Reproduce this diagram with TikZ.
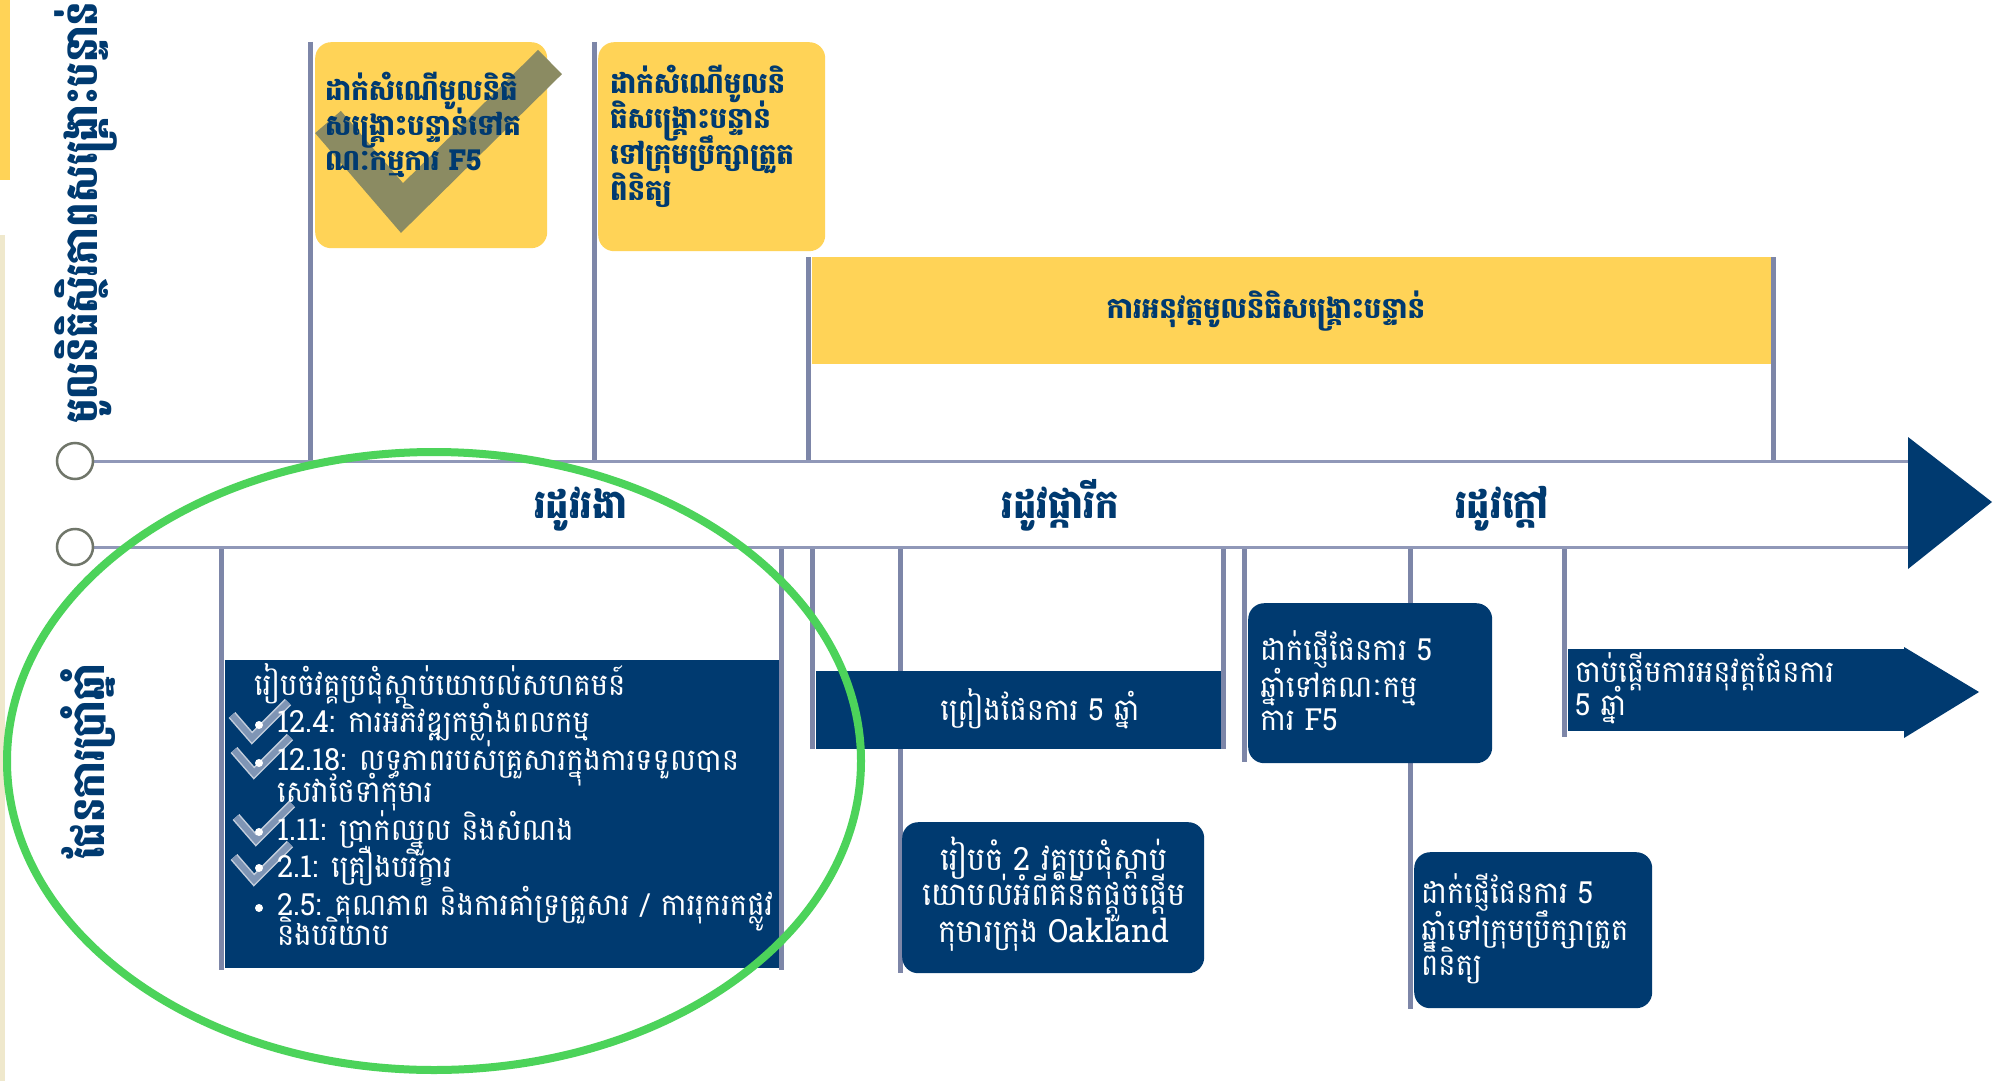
\documentclass[tikz,border=0pt]{standalone}
\usepackage{fontspec}
\newfontfamily\km[Script=Khmer,FakeStretch=0.95]{Battambang}
\newfontfamily\kmt[Script=Khmer,FakeStretch=0.86]{Battambang}
\newfontfamily\kms[Script=Khmer,FakeStretch=0.92]{Battambang}
\definecolor{navy}{HTML}{003A70}
\definecolor{yellowc}{HTML}{FFD357}
\definecolor{paleyel}{HTML}{EFE8CC}
\definecolor{linec}{HTML}{7D86A8}
\definecolor{hlinec}{HTML}{9098B8}
\definecolor{circc}{HTML}{70766A}
\definecolor{greenc}{HTML}{4CD35A}
\definecolor{olivec}{HTML}{8B8B62}
\definecolor{chkc}{HTML}{7F95B5}
\definecolor{chko}{HTML}{C4CEDD}
\tikzset{
  vline/.style={draw=linec, line width=5pt},
  hline/.style={draw=hlinec, line width=3pt},
  ybox/.style={fill=yellowc, draw=none, inner sep=0pt, anchor=north west},
  nbox/.style={fill=navy, draw=none, inner sep=0pt, anchor=north west},
  ytxt/.style={font=\km\bfseries\fontsize{29}{34}\selectfont, text=navy, inner sep=0pt, anchor=base west},
  wtxt/.style={font=\km\fontsize{30.5}{34}\selectfont, text=white, inner sep=0pt, anchor=base west},
  wtxtc/.style={wtxt, anchor=base},
  season/.style={font=\kms\bfseries\fontsize{40}{44}\selectfont, text=navy, inner sep=0pt, anchor=base},
  vtitle/.style={font=\kmt\bfseries\fontsize{45}{48}\selectfont, text=navy, inner sep=0pt, rotate=90, anchor=base west},
  smallchk/.style={line width=9pt, draw=chko},
  smallchki/.style={line width=6pt, draw=chkc},
}
\begin{document}
\begin{tikzpicture}[x=1pt,y=-1pt]
\useasboundingbox (0,0) rectangle (2015,1081);
\fill[white] (0,0) rectangle (2015,1081);
% left stripes
\fill[yellowc] (0,0) rectangle (10,180);
\fill[paleyel] (0,235) rectangle (5,1081);

% vertical titles
\node[vtitle] (titleTop) at (97,424) {មូលនិធិស្ថិរភាពសង្គ្រោះបន្ទាន់};
\node[vtitle] (titleBot) at (104,860) {ផែនការប្រាំឆ្នាំ};

% timeline coordinates
\coordinate (L1s) at (93,461);
\coordinate (L1e) at (1908,461);
\coordinate (L2s) at (93,547);
\coordinate (L2e) at (1908,547);

% top vertical lines
\coordinate (tv1) at (310,42);
\coordinate (tv2) at (594,42);
\coordinate (tv3) at (808,257);
\coordinate (tv4) at (1773,257);
\foreach \c in {tv1,tv2,tv3,tv4} \draw[vline] (\c) -- (\c |- L1s);

% bottom vertical lines
\coordinate (bv1) at (221,970);
\coordinate (bv2) at (781,970);
\coordinate (bv3) at (812,749);
\coordinate (bv4) at (900,973);
\coordinate (bv5) at (1223,749);
\coordinate (bv6) at (1244,762);
\coordinate (bv7) at (1410,1009);
\coordinate (bv8) at (1564,737);
\foreach \c in {bv1,bv2,bv3,bv4,bv5,bv6,bv7,bv8} \draw[vline] (\c |- L2s) -- (\c);

% timeline lines
\draw[hline] (L1s) -- (L1e);
\draw[hline] (L2s) -- (L2e);
\node[circle, draw=circc, line width=2.5pt, fill=white, minimum size=36pt, inner sep=0pt] (c1) at (75,461) {};
\node[circle, draw=circc, line width=2.5pt, fill=white, minimum size=36pt, inner sep=0pt] (c2) at (75,547) {};
\coordinate (ah1) at (1908,437);
\coordinate (ah2) at (1992,502);
\coordinate (ah3) at (1908,569);
\fill[navy] (ah1) -- (ah2) -- (ah3) -- cycle;

% yellow boxes
\node[ybox, rounded corners=16pt, minimum width=232pt, minimum height=206pt] (b1) at (315,42) {};
\draw[olivec, line width=34pt] (328,122) -- (402,208) -- (550,62);
\node[ytxt] (b1a) at (325,100) {ដាក់សំណើមូលនិធិ};
\node[ytxt] (b1b) at (325,135) {សង្គ្រោះបន្ទាន់ទៅគ};
\node[ytxt] (b1c) at (325,170) {ណៈកម្មការ F5};

\node[ybox, rounded corners=16pt, minimum width=227pt, minimum height=209pt] (b2) at (598,42) {};
\node[ytxt] (b2a) at (610,93) {ដាក់សំណើមូលនិ};
\node[ytxt] (b2b) at (610,128) {ធិសង្គ្រោះបន្ទាន់};
\node[ytxt] (b2c) at (610,164) {ទៅក្រុមប្រឹក្សាត្រួត};
\node[ytxt] (b2d) at (610,200) {ពិនិត្យ};

\node[ybox, minimum width=959pt, minimum height=107pt] (bar) at (812,257) {};
\node[ytxt, anchor=base] (bart) at (1266,318) {ការអនុវត្តមូលនិធិសង្គ្រោះបន្ទាន់};

% navy boxes
\node[nbox, minimum width=554pt, minimum height=308pt] (big) at (225,660) {};
\node[wtxt] (bigT) at (254,695) {រៀបចំវគ្គប្រជុំស្ដាប់យោបល់សហគមន៍};
\foreach \v/\d in {252/738, 254/773, 256/840, 254/880}{
  \draw[smallchk] (\v-20,\d-23) -- (\v,\d) -- (\v+36,\d-36);
  \draw[smallchki] (\v-20,\d-23) -- (\v,\d) -- (\v+36,\d-36);
}
\foreach \y in {725,763,832,868,908} \fill[white] (259,\y) circle (4pt);
\node[wtxt] (i1) at (277,732) {12.4: ការអភិវឌ្ឍកម្លាំងពលកម្ម};
\node[wtxt] (i2) at (277,770) {12.18: លទ្ធភាពរបស់គ្រួសារក្នុងការទទួលបាន};
\node[wtxt] (i2b) at (277,802) {សេវាថែទាំកុមារ};
\node[wtxt] (i3) at (277,840) {1.11: ប្រាក់ឈ្នួល និងសំណង};
\node[wtxt] (i4) at (277,877) {2.1: គ្រឿងបរិក្ខារ};
\node[wtxt] (i5) at (277,915) {2.5: គុណភាព និងការគាំទ្រគ្រួសារ / ការរុករកផ្លូវ};
\node[wtxt] (i5b) at (277,945) {និងបរិយាប};

\node[nbox, minimum width=405pt, minimum height=78pt] (plan) at (816,671) {};
\node[wtxtc] (plant) at (1040,720) {ព្រៀងផែនការ 5 ឆ្នាំ};

\node[nbox, rounded corners=16pt, minimum width=302pt, minimum height=151pt] (oak) at (902,822) {};
\node[wtxtc, font=\km\fontsize{32}{34}\selectfont] (oak1) at (1054,870) {រៀបចំ 2 វគ្គប្រជុំស្ដាប់};
\node[wtxtc, font=\km\fontsize{32}{34}\selectfont] (oak2) at (1054,905) {យោបល់អំពីគំនិតផ្ដួចផ្ដើម};
\node[wtxtc, font=\km\fontsize{32}{34}\selectfont] (oak3) at (1054,942) {កុមារក្រុង Oakland};

\node[nbox, rounded corners=16pt, minimum width=244pt, minimum height=160pt] (f5) at (1248,603) {};
\node[wtxt] (f5a) at (1260,660) {ដាក់ផ្ញើផែនការ 5};
\node[wtxt] (f5b) at (1260,697) {ឆ្នាំទៅគណៈកម្ម};
\node[wtxt] (f5c) at (1260,730) {ការ F5};

\node[nbox, rounded corners=16pt, minimum width=238pt, minimum height=156pt] (cou) at (1414,852) {};
\node[wtxt] (cou1) at (1421,903) {ដាក់ផ្ញើផែនការ 5};
\node[wtxt] (cou2) at (1421,940) {ឆ្នាំទៅក្រុមប្រឹក្សាត្រួត};
\node[wtxt] (cou3) at (1421,975) {ពិនិត្យ};

\node[nbox, minimum width=338pt, minimum height=82pt] (go) at (1568,649) {};
\coordinate (gh1) at (1904,647);
\coordinate (gh2) at (1979,692);
\coordinate (gh3) at (1904,738);
\fill[navy] (gh1) -- (gh2) -- (gh3) -- cycle;
\node[wtxt] (go1) at (1575,682) {ចាប់ផ្ដើមការអនុវត្តផែនការ};
\node[wtxt] (go2) at (1575,715) {5 ឆ្នាំ};

% green ellipse
\draw[greenc, line width=8pt] (434,761) ellipse [x radius=427pt, y radius=309pt];

% season labels
\node[season] (s1) at (581,518) {រដូវរងា};
\node[season] (s2) at (1060,518) {រដូវផ្ការីក};
\node[season] (s3) at (1502,518) {រដូវក្ដៅ};
\end{tikzpicture}
\end{document}
